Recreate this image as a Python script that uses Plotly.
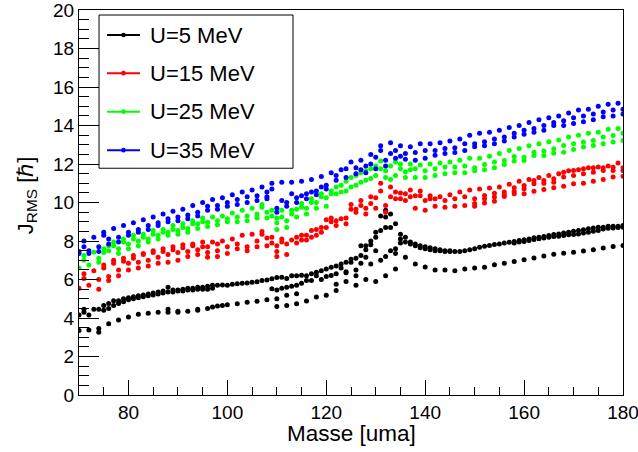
import plotly.graph_objects as go

# ---------------- data ----------------
mass_all = list(range(70, 181))          # every mass 70..180
mass_odd = list(range(71, 180, 2))       # 71, 73, ..., 179
mass_even = list(range(70, 181, 2))      # 70, 72, ..., 180

series_names = ["U=5 MeV", "U=15 MeV", "U=25 MeV", "U=35 MeV"]
series_colors = ["#000000", "#ff0000", "#00ff00", "#0000ff"]

x_title = "Masse [uma]"
y_title = "J<sub>RMS</sub> [\u210f]"

# ---- U = 5 MeV (black) ----
black_upper_hi = [
    4.15, 4.45, 4.15, 4.45, 4.45, 4.65, 4.75, 4.9, 4.9, 5.0,
    5.05, 5.1, 5.15, 5.2, 5.25, 5.3, 5.35, 5.4, 5.6, 5.45,
    5.45, 5.5, 5.55, 5.55, 5.6, 5.6, 5.65, 5.7, 5.7, 5.72,
    5.7, 5.75, 5.78, 5.8, 5.82, 5.86, 5.88, 5.95, 5.98, 6.04,
    6.1, 6.12, 6.05, 6.2, 6.2, 6.22, 6.2, 6.3, 6.38, 6.45,
    6.55, 6.64, 6.7, 6.8, 6.9, 7.05, 7.1, 7.75, 7.75, 8.0,
    8.45, 9.3, 9.6, 9.4, 8.9, 8.35, 8.2, 7.95, 7.85, 7.75,
    7.7, 7.65, 7.6, 7.55, 7.5, 7.5, 7.45, 7.45, 7.5, 7.55,
    7.6, 7.68, 7.73, 7.77, 7.82, 7.85, 7.89, 7.94, 7.97, 8.03,
    8.06, 8.11, 8.17, 8.2, 8.24, 8.29, 8.34, 8.37, 8.41, 8.46,
    8.51, 8.55, 8.58, 8.63, 8.67, 8.72, 8.72, 8.76, 8.77, 8.77,
    8.81,
]
black_upper_lo = [
    None, 4.3, None, None, None, 4.4, 4.5, 4.65, 4.75, 4.85,
    4.95, 5.0, 5.05, 5.1, 5.15, 5.2, 5.25, 5.3, 5.35, 5.35,
    5.4, 5.4, 5.45, 5.45, 5.5, 5.5, 5.5, 5.55, None, None,
    None, None, None, None, None, None, None, None, None, 5.52,
    5.45, 5.55, 5.6, 5.65, 5.7, 5.8, 5.95, 5.95, 6.2, 6.0,
    6.15, 6.21, 6.3, 6.6, 6.4, 6.9, 6.2, 7.25, 7.55, 7.8,
    8.2, 8.55, 9.25, 8.7, 7.6, 8.1, 7.95, 7.85, 7.75, 7.65,
    7.6, 7.55, 7.5, 7.5, 7.45, 7.45, None, None, None, None,
    None, None, None, None, None, None, None, None, 7.9, 7.95,
    7.98, 8.02, 8.08, 8.12, 8.16, 8.2, 8.24, 8.25, 8.29, 8.32,
    8.34, 8.37, 8.41, 8.46, 8.51, 8.55, 8.62, 8.66, 8.68, 8.7,
    8.72,
]
black_lower = [
    3.35, 3.38, 3.45, 3.7, 3.9, 4.05, 4.2, 4.25, 4.3, 4.45,
    4.35, 4.35, 4.45, 4.5, 4.62, 4.69, 4.74, 4.82, 4.87, 4.95,
    4.6, 4.65, 4.74, 4.88, 5.09, 5.18, 5.75, 5.9, 5.7, 6.0,
    5.9, 6.2, 6.55, 7.15, 6.8, 6.65, 6.5, 6.5, 6.45, 6.55,
    6.6, 6.64, 6.76, 6.85, 6.94, 7.03, 7.12, 7.22, 7.31, 7.37,
    7.42, 7.48, 7.54, 7.63, 7.72, 7.77,
]
black_extra_mass = [74, 88, 90, 94, 97, 99, 110, 112, 114, 122, 124, 126, 127,
                    128, 129, 130, 131, 132, 132, 133, 134, 135]
black_extra_j = [3.26, 4.3, 4.3, 4.4, 4.57, 4.65, 5.0, 5.18, 5.26, 5.43, 6.35, 6.5, 6.85,
                 7.15, 6.8, 7.5, 7.0, 8.7, 7.2, 7.5, 7.35, 7.9]

# ---- U = 15 MeV (red) ----
red_odd = [
    6.3, 6.45, 6.75, 7.0, 7.1, 7.25, 7.35, 7.5, 7.6, 7.7,
    7.8, 7.85, 7.95, 7.95, 8.0, 8.1, 8.3, 8.35, 8.5, 8.2,
    8.1, 8.05, 8.3, 8.55, 8.7, 9.2, 9.15, 9.9, 10.1, 10.3,
    11.0, 10.8, 10.5, 10.65, 10.6, 10.35, 10.3, 10.4, 10.55, 10.65,
    10.7, 10.75, 10.8, 10.95, 11.1, 11.2, 11.3, 11.4, 11.5, 11.65,
    11.7, 11.8, 11.85, 11.9, 12.05,
]
red_even_hi = [
    5.55, 5.7, 6.0, 6.15, 6.5, 6.85, 6.9, 7.0, 7.15, 7.3,
    7.4, 7.45, 7.55, 7.7, 7.85, 7.7, 7.85, 7.7, 8.0, 8.15,
    7.75, 7.85, 8.2, 8.3, 8.6, 9.1, 9.05, 9.2, 9.65, 9.7,
    10.25, 9.85, 10.55, 10.45, 10.35, 10.1, 10.2, 10.1, 10.2, 10.3,
    10.2, 10.36, 10.48, 10.54, 10.76, 10.88, 11.14, 11.14, 11.23, 11.57,
    11.66, 11.75, 11.8, 11.8, 11.83, 11.8,
]
red_even_lo = [
    None, None, 5.5, 5.95, 6.2, 6.5, 6.6, 6.7, 6.85, 6.9,
    7.0, 7.2, 7.3, 7.4, 7.5, 7.35, 7.6, 7.5, 7.7, 7.75,
    7.2, 7.3, 7.9, 8.05, 8.3, 8.7, 8.8, 8.9, 9.5, 9.4,
    9.7, 9.5, 10.2, 10.1, 9.7, 9.6, 9.8, 9.75, 9.8, 9.85,
    9.95, 10.19, 10.28, 10.4, 10.57, 10.71, 10.97, 11.0, 11.05, 11.32,
    11.4, 11.49, 11.57, 11.66, 11.66, 11.66,
]
red_extra_mass = [71, 75, 77, 79, 81, 83, 85, 87, 89, 91, 93, 95, 96, 98, 107, 109,
                  110, 111, 115, 117, 119, 121, 125, 127, 129, 131, 133, 135, 137,
                  139, 141, 150, 152, 154, 156, 158, 160, 162, 164, 166, 168, 170,
                  172, 174, 176, 178, 180]
red_extra_j = [6.05, 6.6, 6.85, 6.95, 7.1, 7.3, 7.4, 7.45, 7.55, 7.65, 7.75, 7.7, 7.15,
               7.2, 8.35, 7.9, 7.45, 7.95, 8.05, 8.2, 8.45, 9.0, 9.65, 9.85, 9.95, 10.6,
               10.3, 10.2, 10.3, 10.35, 10.2, 9.8, 9.97, 10.07, 10.31, 10.45, 10.45,
               10.59, 10.67, 10.76, 10.85, 10.97, 11.0, 11.11, 11.2, 11.32, 11.37]

# ---- U = 25 MeV (green) ----
green_odd = [
    7.25, 7.42, 7.6, 7.95, 8.1, 8.3, 8.35, 8.55, 8.6, 8.8,
    8.9, 9.05, 9.2, 9.25, 9.3, 9.45, 9.6, 9.7, 9.9, 9.6,
    9.6, 9.6, 9.95, 10.2, 10.45, 10.6, 10.9, 11.3, 11.55, 11.75,
    12.15, 11.9, 12.0, 12.0, 11.95, 12.0, 12.05, 12.1, 12.2, 12.3,
    12.3, 12.4, 12.55, 12.7, 12.8, 12.95, 13.05, 13.15, 13.25, 13.4,
    13.5, 13.6, 13.65, 13.8, 13.85,
]
green_even_hi = [
    6.6, 6.75, 7.1, 7.75, 7.6, 7.85, 8.0, 8.1, 8.3, 8.45,
    8.55, 8.65, 8.9, 8.98, 9.05, 9.15, 9.25, 9.3, 9.4, 9.5,
    9.2, 9.05, 9.65, 9.7, 10.0, 10.25, 10.8, 11.1, 11.4, 11.65,
    11.9, 11.65, 12.1, 11.6, 11.75, 11.65, 11.75, 11.85, 11.85, 11.9,
    11.8, 11.97, 12.1, 12.18, 12.39, 12.35, 12.61, 12.67, 12.79, 12.96,
    13.05, 13.14, 13.22, 13.4, 13.48, 13.6,
]
green_even_lo = [
    None, None, 6.9, 7.5, 7.35, 7.6, 7.75, 7.95, 8.1, 8.3,
    8.35, 8.45, 8.65, 8.75, 8.85, 9.0, 9.0, 9.05, 9.2, 9.2,
    8.6, 8.7, 9.25, 9.4, 9.7, 9.8, 10.45, 10.6, 10.9, 11.15,
    11.4, 11.3, 11.4, 11.3, 11.3, 11.3, 11.4, 11.5, 11.55, 11.55,
    11.65, 11.7, 11.8, 11.97, 12.15, 12.18, 12.44, 12.44, 12.56, 12.61,
    12.75, 12.88, 12.96, 13.05, 13.14, 13.22,
]
green_extra_mass = [71, 75, 77, 79, 81, 83, 85, 87, 89, 91, 93, 95, 107, 109, 110, 111,
                    113, 115, 117, 119, 121, 123, 125, 127, 129, 131, 133, 135, 137]
green_extra_j = [7.0, 7.4, 7.75, 7.95, 8.1, 8.2, 8.35, 8.45, 8.6, 8.7, 8.9, 9.0, 9.75,
                 9.3, 8.95, 9.25, 9.4, 9.75, 10.0, 10.3, 10.45, 10.55, 10.8, 11.05,
                 11.25, 11.75, 11.2, 11.75, 11.7]

# ---- U = 35 MeV (blue) ----
blue_odd = [
    8.0, 8.2, 8.45, 8.65, 8.8, 8.95, 9.1, 9.25, 9.4, 9.55,
    9.65, 9.85, 10.0, 10.15, 10.25, 10.4, 10.55, 10.65, 10.8, 11.0,
    11.05, 11.05, 11.1, 11.2, 11.35, 11.55, 11.7, 12.1, 12.2, 12.5,
    12.95, 13.1, 12.95, 12.9, 13.05, 13.05, 13.1, 13.2, 13.3, 13.5,
    13.6, 13.65, 13.75, 13.9, 14.0, 14.15, 14.3, 14.4, 14.5, 14.65,
    14.8, 14.85, 15.0, 15.1, 15.15,
]
blue_even_hi = [
    7.45, 7.5, 7.7, 8.1, 8.2, 8.45, 8.6, 8.8, 8.95, 9.15,
    9.25, 9.35, 9.5, 9.8, 9.85, 10.0, 10.15, 10.3, 10.35, 10.55,
    9.7, 10.0, 10.25, 10.45, 10.6, 10.9, 11.4, 11.75, 11.8, 11.9,
    12.35, 12.2, 12.7, 12.55, 12.6, 12.7, 12.7, 12.8, 12.85, 13.05,
    13.05, 13.15, 13.3, 13.4, 13.6, 13.75, 13.85, 14.0, 14.15, 14.25,
    14.4, 14.5, 14.6, 14.7, 14.8, 14.85,
]
blue_even_lo = [
    7.35, 7.35, 7.45, 7.85, 7.95, 8.3, 8.45, 8.6, 8.8, 9.0,
    9.05, 9.15, 9.3, 9.6, 9.65, 9.8, 9.9, 10.0, 10.1, 10.2,
    9.5, 9.8, 10.0, 10.2, 10.4, 10.7, 11.15, 11.3, 11.5, 11.55,
    11.75, 11.9, 12.3, 12.25, 12.2, 12.3, 12.45, 12.55, 12.6, 12.7,
    12.9, 12.95, 13.05, 13.2, 13.4, 13.55, 13.65, 13.75, 14.0, 14.0,
    14.1, 14.2, 14.3, 14.45, 14.5, 14.6,
]
blue_extra_mass = [71, 75, 108, 109, 111, 113, 115, 117, 119, 127, 129, 131, 133, 135]
blue_extra_j = [7.7, 8.3, 10.3, 10.7, 10.1, 10.45, 10.35, 10.55, 10.8, 11.7, 12.0,
                12.7, 12.55, 12.4]

# ---------------- assemble ----------------
def pts(*bands):
    xs, ys = [], []
    for m, v in bands:
        for a, j in zip(m, v):
            if j is not None:
                xs.append(a)
                ys.append(j)
    return xs, ys

series_points = [
    pts((mass_all, black_upper_hi), (mass_all, black_upper_lo),
        (mass_even, black_lower), (black_extra_mass, black_extra_j)),
    pts((mass_odd, red_odd), (mass_even, red_even_hi), (mass_even, red_even_lo),
        (red_extra_mass, red_extra_j)),
    pts((mass_odd, green_odd), (mass_even, green_even_hi), (mass_even, green_even_lo),
        (green_extra_mass, green_extra_j)),
    pts((mass_odd, blue_odd), (mass_even, blue_even_hi), (mass_even, blue_even_lo),
        (blue_extra_mass, blue_extra_j)),
]

FONT = "Liberation Sans, Arial, Helvetica, sans-serif"
fig = go.Figure()

for (xs, ys), col, name in zip(series_points, series_colors, series_names):
    fig.add_trace(go.Scatter(
        x=xs, y=ys, mode="markers", name=name, showlegend=False, cliponaxis=True,
        marker=dict(color=col, size=5, line=dict(width=0)),
    ))

# ---- ROOT-style legend box drawn in paper coordinates ----
shapes = [dict(type="rect", xref="paper", yref="paper", x0=0.0368, x1=0.3934,
               y0=0.589, y1=0.987, line=dict(color="black", width=1),
               fillcolor="white", layer="above")]
annotations = []
entry_y = [0.935, 0.836, 0.736, 0.636]
for name, col, ey in zip(series_names, series_colors, entry_y):
    shapes.append(dict(type="line", xref="paper", yref="paper", x0=0.0515, x1=0.1121,
                       y0=ey, y1=ey, line=dict(color=col, width=2), layer="above"))
    shapes.append(dict(type="circle", xref="paper", yref="paper",
                       xsizemode="pixel", ysizemode="pixel",
                       xanchor=0.0818, yanchor=ey, x0=-2.3, x1=2.3, y0=-2.3, y1=2.3,
                       fillcolor=col, line=dict(color=col, width=0), layer="above"))
    annotations.append(dict(text=name, xref="paper", yref="paper", x=0.1268, y=ey,
                            xanchor="left", yanchor="middle", showarrow=False,
                            font=dict(family=FONT, size=22, color="black")))

annotations += [
    dict(text=x_title, xref="paper", yref="paper", x=0.5, y=-0.1,
         xanchor="center", yanchor="middle", showarrow=False,
         font=dict(family=FONT, size=22.5, color="black")),
    dict(text=y_title, xref="paper", yref="paper", x=-0.0956, y=0.519,
         xanchor="center", yanchor="middle", showarrow=False, textangle=-90,
         font=dict(family=FONT, size=22, color="black")),
]

axis_common = dict(
    showline=True, linecolor="black", linewidth=1, mirror=True,
    ticks="inside", tickcolor="black", tickwidth=1,
    showgrid=False, zeroline=False, automargin=False,
    ticklabeloverflow="allow",
    tickfont=dict(family=FONT, size=19, color="black"),
)

fig.update_layout(
    width=638, height=452,
    margin=dict(l=79, r=15, t=10, b=57),
    paper_bgcolor="white", plot_bgcolor="white",
    font=dict(family=FONT, color="black"),
    showlegend=False,
    hovermode=False,
    xaxis=dict(
        range=[70, 180], tickmode="linear", tick0=80, dtick=20, ticklen=15,
        minor=dict(tick0=70, dtick=5, ticklen=8, ticks="inside", tickcolor="black"),
        **axis_common,
    ),
    yaxis=dict(
        range=[0, 20], tickmode="linear", tick0=0, dtick=2, ticklen=20,
        minor=dict(tick0=0, dtick=0.5, ticklen=10, ticks="inside", tickcolor="black"),
        **axis_common,
    ),
    shapes=shapes,
    annotations=annotations,
)

# remove the browser's default 8px page margin so the figure sits at the window corner
fig.write_html("out.html", config={"displayModeBar": False},
               post_script="document.body.style.margin='0';")
